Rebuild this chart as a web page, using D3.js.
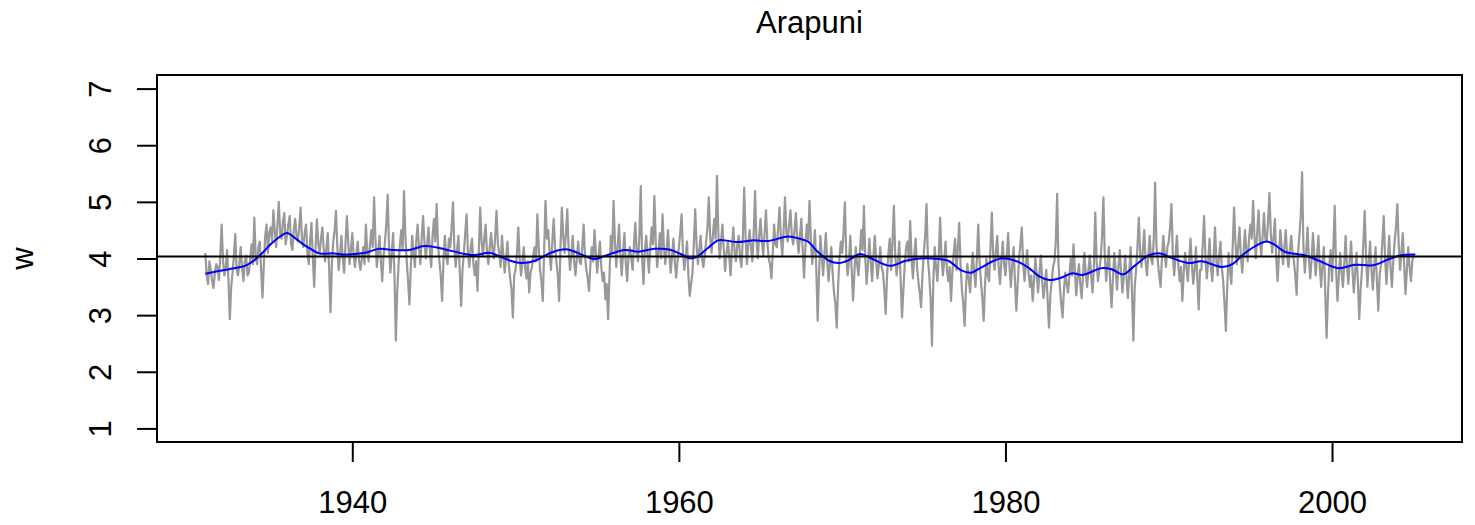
<!DOCTYPE html>
<html>
<head>
<meta charset="utf-8">
<script src="https://cdn.jsdelivr.net/npm/d3@7"></script>
<style>
  html, body { margin: 0; padding: 0; background: #fff; }
  svg { display: block; }
  text { font-family: "Liberation Sans", Arial, Helvetica, sans-serif; fill: #000; }
</style>
</head>
<body>
<svg id="chart" width="1475" height="525"></svg>
<script>
// ---------------- data ----------------
const chartTitle = "Arapuni";
const yLabel = "w";
const startYear = 1931;        // first observation
const stepsPerYear = 12;       // monthly observations
// monthly values 1931 .. 2004, then the final 2005 value
const series = [
  4.10,3.70,3.55,3.95,3.80,3.60,3.48,3.75,3.90,3.85,3.62,4.05, // 1931
  4.60,3.95,3.70,3.85,4.15,3.60,2.93,3.50,3.75,4.05,4.43,3.80, // 1932
  3.70,3.90,4.20,3.85,3.60,3.95,4.05,3.70,3.75,4.00,4.25,3.90, // 1933
  4.72,4.05,3.90,4.20,4.30,3.80,3.31,3.90,4.40,4.60,4.10,4.45, // 1934
  4.55,4.30,4.85,4.50,4.20,4.60,5.00,4.45,4.35,4.65,4.80,4.25, // 1935
  4.40,4.60,4.75,4.25,4.15,4.50,4.70,4.40,4.30,4.55,4.90,4.35, // 1936
  4.20,4.45,4.60,4.10,3.90,4.30,4.63,4.00,3.50,4.20,4.69,4.25, // 1937
  4.10,4.35,4.55,4.15,3.95,4.20,4.45,3.80,3.05,3.90,4.30,4.50, // 1938
  4.84,4.20,3.80,4.05,4.40,4.00,3.75,4.25,4.75,4.30,3.90,4.15, // 1939
  4.45,4.05,3.85,4.10,4.30,3.95,3.80,4.00,4.20,3.90,4.60,4.10, // 1940
  3.95,4.25,4.50,4.20,5.08,4.35,3.85,4.10,4.40,3.95,3.60,4.05, // 1941
  4.30,4.60,5.13,4.20,3.75,4.10,4.45,3.70,2.55,3.40,3.90,4.25, // 1942
  4.50,4.15,5.19,4.40,3.95,3.60,3.19,3.85,4.40,4.10,3.85,4.30, // 1943
  4.60,4.20,3.90,4.35,4.75,4.30,4.00,4.25,4.55,4.15,3.85,4.40, // 1944
  4.70,4.30,4.96,4.25,3.95,3.70,3.25,3.95,4.40,4.05,3.90,4.35, // 1945
  4.20,4.55,4.99,4.20,3.85,4.15,4.40,3.75,3.16,3.80,4.10,4.45, // 1946
  4.78,4.10,3.85,4.20,4.35,3.90,3.70,3.95,3.43,4.15,4.90,4.30, // 1947
  4.05,4.35,4.60,4.10,3.90,4.20,4.45,4.15,4.00,4.40,4.84,4.25, // 1948
  4.10,3.85,4.40,4.05,3.75,4.00,4.30,3.90,3.65,3.45,2.96,3.70, // 1949
  3.80,4.10,4.55,4.00,3.70,3.95,4.20,3.85,3.65,3.95,3.40,3.75, // 1950
  3.85,4.05,4.20,3.95,4.78,4.20,3.80,3.60,3.25,4.15,5.02,4.35, // 1951
  4.50,4.10,3.80,4.30,4.70,4.20,3.95,3.70,3.25,4.20,4.90,4.40, // 1952
  4.10,4.45,4.87,4.15,3.80,4.05,4.40,3.95,3.70,4.00,4.30,3.95, // 1953
  3.90,4.20,4.60,4.05,3.80,3.65,3.43,3.90,4.20,3.95,4.50,4.10, // 1954
  3.75,4.05,4.30,3.85,3.60,3.75,3.28,3.55,2.93,3.70,4.40,4.10, // 1955
  5.02,4.30,3.85,4.20,4.60,4.05,3.70,4.10,4.45,3.90,3.60,4.05, // 1956
  4.20,4.00,3.80,4.25,4.63,4.10,3.95,4.40,5.28,4.00,3.55,4.15, // 1957
  4.40,4.05,3.75,4.20,4.55,4.25,5.10,4.30,3.85,4.10,4.45,4.00, // 1958
  4.78,4.20,3.90,4.15,4.50,4.05,3.75,4.05,4.35,3.95,3.66,3.95, // 1959
  4.20,4.45,4.78,4.10,3.80,4.05,4.30,3.70,3.34,3.55,3.75,4.25, // 1960
  4.87,4.25,3.90,4.15,4.40,4.00,3.85,4.05,4.30,4.55,5.08,4.40, // 1961
  4.10,4.40,4.70,4.35,5.46,4.45,4.00,4.30,4.60,4.15,3.78,4.10, // 1962
  4.30,4.05,3.70,4.20,4.55,4.10,3.95,4.25,4.40,4.00,3.85,4.35, // 1963
  5.25,4.40,3.90,4.25,4.50,4.20,3.95,4.45,5.19,4.35,4.00,4.40, // 1964
  4.70,4.30,4.05,4.45,4.85,4.30,4.00,3.90,3.65,4.10,4.60,4.25, // 1965
  4.20,4.55,4.90,4.35,4.05,4.50,5.08,4.45,4.30,4.60,4.85,4.40, // 1966
  4.25,4.50,4.80,4.35,4.10,4.40,4.70,4.15,3.66,4.20,4.60,4.30, // 1967
  5.02,4.35,3.90,4.15,4.50,3.80,2.90,3.70,4.40,4.05,3.70,4.10, // 1968
  4.45,3.95,3.60,3.90,4.20,3.75,3.40,3.20,2.78,3.50,4.00,4.30, // 1969
  4.10,4.45,4.99,4.05,3.70,3.95,4.40,3.80,3.26,3.75,4.20,3.90, // 1970
  3.70,4.10,4.50,4.15,4.93,4.00,3.55,3.90,4.35,3.95,3.60,4.05, // 1971
  4.40,3.95,3.65,3.90,4.20,3.85,3.75,3.45,3.02,3.70,4.10,4.35, // 1972
  3.80,4.30,4.93,4.05,3.70,3.95,4.30,3.60,2.96,3.45,3.90,4.20, // 1973
  4.30,3.95,4.66,4.00,3.65,4.05,4.35,3.85,3.60,3.40,3.14,3.70, // 1974
  4.10,4.40,4.96,4.00,3.70,3.30,2.46,3.60,4.20,3.85,3.60,4.05, // 1975
  4.72,4.05,3.70,3.95,4.30,3.80,3.60,3.85,3.25,3.75,4.10,4.35, // 1976
  3.80,4.15,4.63,3.90,3.45,3.20,2.81,3.50,3.90,3.65,3.40,3.80, // 1977
  4.10,3.75,3.50,4.00,4.60,3.95,3.60,3.30,2.90,3.55,4.00,3.70, // 1978
  3.60,4.20,4.81,4.05,3.80,4.15,4.40,3.85,3.55,3.95,4.30,3.90, // 1979
  3.70,4.05,4.45,3.85,3.50,3.90,4.20,3.60,3.08,3.55,4.00,4.25, // 1980
  4.55,3.95,3.60,3.90,4.15,3.75,3.50,3.70,3.25,3.60,4.00,3.70, // 1981
  3.40,3.75,4.05,3.60,3.30,3.55,3.80,3.25,2.78,3.35,3.60,3.85, // 1982
  3.95,4.30,5.14,3.90,3.50,3.20,2.96,3.45,3.75,3.55,3.40,3.70, // 1983
  4.00,3.70,4.25,3.80,3.35,3.65,3.90,3.55,3.30,3.70,4.10,3.75, // 1984
  3.50,3.80,4.05,3.70,3.40,3.85,4.81,3.95,3.60,3.80,4.00,4.40, // 1985
  5.08,4.05,3.60,3.90,4.20,3.55,3.14,3.65,4.10,3.80,3.45,3.85, // 1986
  4.15,3.75,3.40,3.70,4.05,3.65,3.30,3.75,4.20,3.40,2.55,3.50, // 1987
  3.80,4.20,4.72,4.10,3.85,4.15,4.50,3.95,3.70,4.05,4.40,4.00, // 1988
  3.90,4.35,5.34,4.20,3.95,3.70,3.50,4.00,4.40,4.10,3.85,4.20, // 1989
  4.30,4.55,4.96,4.05,3.70,4.05,4.40,3.90,3.60,3.85,3.25,3.75, // 1990
  4.10,3.85,3.60,3.95,4.35,3.90,3.55,3.80,4.20,3.65,3.10,3.80, // 1991
  3.80,4.25,4.75,4.00,3.65,3.95,4.35,3.85,3.60,4.00,4.55,3.95, // 1992
  3.70,4.05,4.30,3.85,3.60,3.20,2.72,3.50,4.10,3.80,3.55,4.20, // 1993
  4.90,4.30,3.90,4.20,4.55,4.05,3.75,4.10,4.50,4.15,3.95,4.35, // 1994
  4.60,4.35,5.02,4.40,4.00,4.45,4.85,4.30,4.05,4.40,4.80,4.35, // 1995
  4.30,4.65,5.16,4.45,4.10,4.35,4.70,4.00,3.60,4.05,4.50,4.20, // 1996
  3.90,4.20,4.50,4.05,3.85,4.15,4.40,4.10,3.95,3.70,3.36,4.10, // 1997
  4.40,4.75,5.52,4.20,3.75,4.10,4.55,4.00,3.65,4.00,4.45,4.05, // 1998
  3.70,4.05,4.40,3.85,3.50,3.90,4.20,3.40,2.60,3.35,3.90,4.15, // 1999
  3.60,4.20,4.93,3.80,3.25,3.70,4.10,3.75,3.50,3.90,4.40,3.85, // 2000
  3.55,3.95,4.30,3.80,3.40,3.75,4.10,3.60,2.93,3.45,3.80,4.25, // 2001
  4.84,4.05,3.50,3.95,4.30,3.80,3.45,3.85,4.20,3.60,3.08,3.70, // 2002
  3.90,4.30,4.75,4.00,3.55,3.95,4.40,3.85,3.50,3.95,4.30,4.55, // 2003
  4.96,4.25,3.80,4.10,4.45,3.90,3.37,3.80,4.20,3.85,3.60,3.95, // 2004
  4.07                                                         // 2005
];
// smooth trend (blue)
const trendYears = [1931.0,1932.0,1933.0,1933.5,1934.0,1934.5,1935.0,1935.5,1936.0,1936.5,1937.0,1937.5,1938.0,1938.9,1939.5,1940.2,1940.8,1941.6,1942.6,1943.5,1944.4,1945.1,1945.7,1946.9,1947.5,1948.4,1949.0,1949.7,1950.3,1951.2,1952.0,1952.7,1953.2,1953.8,1954.8,1955.5,1956.7,1957.5,1958.5,1959.4,1960.1,1960.7,1961.1,1961.8,1962.4,1962.8,1963.6,1964.5,1965.5,1966.7,1967.4,1967.9,1968.5,1969.2,1969.8,1970.4,1971.1,1971.8,1972.9,1973.9,1974.8,1975.5,1976.5,1977.3,1977.9,1978.5,1979.7,1980.6,1981.4,1982.1,1982.7,1983.4,1984.1,1984.7,1985.9,1986.5,1987.2,1987.9,1988.8,1989.5,1990.0,1991.2,1992.0,1993.3,1993.9,1994.6,1995.3,1996.0,1996.5,1997.1,1998.4,1999.2,2000.4,2001.4,2002.5,2003.5,2004.3,2005.1];
const trendValues = [3.73,3.79,3.84,3.88,3.97,4.10,4.25,4.37,4.45,4.36,4.25,4.16,4.09,4.09,4.07,4.08,4.10,4.17,4.15,4.15,4.22,4.20,4.16,4.08,4.06,4.10,4.04,3.96,3.92,3.96,4.08,4.15,4.16,4.10,3.99,4.05,4.15,4.12,4.17,4.16,4.08,4.00,4.03,4.19,4.32,4.32,4.29,4.32,4.31,4.39,4.35,4.30,4.12,3.96,3.92,3.97,4.08,4.00,3.87,3.96,4.00,4.00,3.96,3.79,3.75,3.84,4.00,3.96,3.84,3.68,3.62,3.66,3.74,3.71,3.83,3.81,3.72,3.87,4.06,4.09,4.03,3.92,3.95,3.85,3.90,4.08,4.22,4.30,4.24,4.12,4.05,3.96,3.83,3.89,3.88,3.99,4.06,4.07];
const meanLevel = 4.035;
const xTicks = [1940, 1960, 1980, 2000];
const yTicks = [1, 2, 3, 4, 5, 6, 7];
const xDataRange = [1931, 2005];
const yAxisRange = [1, 7];

// ---------------- layout ----------------
const svg = d3.select("#chart");
const box = { left: 157, right: 1462, top: 75, bottom: 442 };
const pad = (r) => { const d = (r[1] - r[0]) * 0.04; return [r[0] - d, r[1] + d]; };
const fontSize = 31;

const x = d3.scaleLinear().domain(pad(xDataRange)).range([box.left, box.right]);
const y = d3.scaleLinear().domain(pad(yAxisRange)).range([box.bottom, box.top]);

const pts = series.map((v, i) => [startYear + i / stepsPerYear, v]);

// grey series
svg.append("path")
  .datum(pts)
  .attr("fill", "none")
  .attr("stroke", "#999999")
  .attr("stroke-width", 2.2)
  .attr("stroke-linejoin", "round")
  .attr("d", d3.line().x(d => x(d[0])).y(d => y(d[1])));

// blue trend
svg.append("path")
  .datum(trendYears.map((t, i) => [t, trendValues[i]]))
  .attr("fill", "none")
  .attr("stroke", "#0000ff")
  .attr("stroke-width", 2)
  .attr("d", d3.line().curve(d3.curveCatmullRom.alpha(0.5)).x(d => x(d[0])).y(d => y(d[1])));

// mean line
svg.append("line")
  .attr("x1", box.left).attr("x2", box.right)
  .attr("y1", y(meanLevel)).attr("y2", y(meanLevel))
  .attr("stroke", "#000").attr("stroke-width", 2);

// box
svg.append("rect")
  .attr("x", box.left).attr("y", box.top)
  .attr("width", box.right - box.left).attr("height", box.bottom - box.top)
  .attr("fill", "none").attr("stroke", "#000").attr("stroke-width", 2);

// bottom axis
const xAxis = d3.axisBottom(x).tickValues(xTicks).tickSize(20).tickPadding(29).tickFormat(d3.format("d"));
const gx = svg.append("g").attr("transform", `translate(0,${box.bottom})`).call(xAxis);
gx.select(".domain").remove();
gx.selectAll(".tick line").attr("stroke", "#000").attr("stroke-width", 2);
gx.selectAll(".tick text").attr("font-size", fontSize).attr("font-family", "Liberation Sans, Arial, sans-serif").attr("fill", "#000");

// left axis
const yAxis = d3.axisLeft(y).tickValues(yTicks).tickSize(20).tickPadding(0).tickFormat(d3.format("d"));
const gy = svg.append("g").attr("transform", `translate(${box.left},0)`).call(yAxis);
gy.select(".domain").remove();
gy.selectAll(".tick line").attr("stroke", "#000").attr("stroke-width", 2);
gy.selectAll(".tick text")
  .attr("font-size", fontSize).attr("font-family", "Liberation Sans, Arial, sans-serif").attr("fill", "#000")
  .attr("x", null).attr("dy", null)
  .attr("text-anchor", "middle")
  .attr("transform", "translate(-46,0) rotate(-90)");

// y label
svg.append("text")
  .attr("transform", `translate(33,${(box.top + box.bottom) / 2}) rotate(-90)`)
  .attr("text-anchor", "middle")
  .attr("font-size", fontSize)
  .text(yLabel);

// title
svg.append("text")
  .attr("x", (box.left + box.right) / 2).attr("y", 33)
  .attr("text-anchor", "middle")
  .attr("font-size", fontSize)
  .text(chartTitle);
</script>
</body>
</html>
